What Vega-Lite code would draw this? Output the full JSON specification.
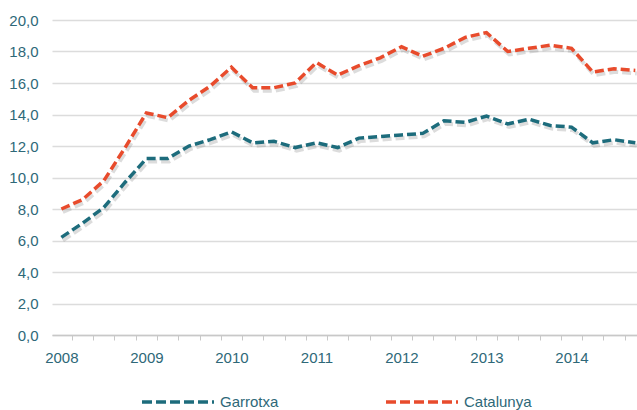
{
  "$schema": "https://vega.github.io/schema/vega-lite/v6.json",
  "width": 585,
  "height": 315,
  "autosize": {"type": "none"},
  "padding": {"left": 52, "top": 20, "right": 0, "bottom": 75},
  "background": "white",
  "config": {
    "view": {"stroke": null},
    "font": "Liberation Sans"
  },
  "data": {
    "values": [
      {"t":2008.0,"s":"Garrotxa","v":6.2},{"t":2008.25,"s":"Garrotxa","v":7.1},{"t":2008.5,"s":"Garrotxa","v":8.1},{"t":2008.75,"s":"Garrotxa","v":9.7},
      {"t":2009.0,"s":"Garrotxa","v":11.2},{"t":2009.25,"s":"Garrotxa","v":11.2},{"t":2009.5,"s":"Garrotxa","v":12.0},{"t":2009.75,"s":"Garrotxa","v":12.4},
      {"t":2010.0,"s":"Garrotxa","v":12.9},{"t":2010.25,"s":"Garrotxa","v":12.2},{"t":2010.5,"s":"Garrotxa","v":12.3},{"t":2010.75,"s":"Garrotxa","v":11.9},
      {"t":2011.0,"s":"Garrotxa","v":12.2},{"t":2011.25,"s":"Garrotxa","v":11.9},{"t":2011.5,"s":"Garrotxa","v":12.5},{"t":2011.75,"s":"Garrotxa","v":12.6},
      {"t":2012.0,"s":"Garrotxa","v":12.7},{"t":2012.25,"s":"Garrotxa","v":12.8},{"t":2012.5,"s":"Garrotxa","v":13.6},{"t":2012.75,"s":"Garrotxa","v":13.5},
      {"t":2013.0,"s":"Garrotxa","v":13.9},{"t":2013.25,"s":"Garrotxa","v":13.4},{"t":2013.5,"s":"Garrotxa","v":13.7},{"t":2013.75,"s":"Garrotxa","v":13.3},
      {"t":2014.0,"s":"Garrotxa","v":13.2},{"t":2014.25,"s":"Garrotxa","v":12.2},{"t":2014.5,"s":"Garrotxa","v":12.4},{"t":2014.75,"s":"Garrotxa","v":12.2},
      {"t":2008.0,"s":"Catalunya","v":8.0},{"t":2008.25,"s":"Catalunya","v":8.6},{"t":2008.5,"s":"Catalunya","v":9.8},{"t":2008.75,"s":"Catalunya","v":11.9},
      {"t":2009.0,"s":"Catalunya","v":14.1},{"t":2009.25,"s":"Catalunya","v":13.8},{"t":2009.5,"s":"Catalunya","v":14.9},{"t":2009.75,"s":"Catalunya","v":15.8},
      {"t":2010.0,"s":"Catalunya","v":17.0},{"t":2010.25,"s":"Catalunya","v":15.7},{"t":2010.5,"s":"Catalunya","v":15.7},{"t":2010.75,"s":"Catalunya","v":16.0},
      {"t":2011.0,"s":"Catalunya","v":17.3},{"t":2011.25,"s":"Catalunya","v":16.5},{"t":2011.5,"s":"Catalunya","v":17.1},{"t":2011.75,"s":"Catalunya","v":17.6},
      {"t":2012.0,"s":"Catalunya","v":18.3},{"t":2012.25,"s":"Catalunya","v":17.7},{"t":2012.5,"s":"Catalunya","v":18.2},{"t":2012.75,"s":"Catalunya","v":18.9},
      {"t":2013.0,"s":"Catalunya","v":19.2},{"t":2013.25,"s":"Catalunya","v":18.0},{"t":2013.5,"s":"Catalunya","v":18.2},{"t":2013.75,"s":"Catalunya","v":18.4},
      {"t":2014.0,"s":"Catalunya","v":18.2},{"t":2014.25,"s":"Catalunya","v":16.7},{"t":2014.5,"s":"Catalunya","v":16.9},{"t":2014.75,"s":"Catalunya","v":16.8}
    ]
  },
  "encoding": {
    "x": {
      "field": "t", "type": "quantitative",
      "scale": {"domain": [2007.89, 2014.77], "nice": false, "zero": false},
      "axis": {
        "title": null,
        "values": [2008, 2008.125, 2008.375, 2008.625, 2008.875, 2009, 2009.125, 2009.375, 2009.625, 2009.875, 2010, 2010.125, 2010.375, 2010.625, 2010.875, 2011, 2011.125, 2011.375, 2011.625, 2011.875, 2012, 2012.125, 2012.375, 2012.625, 2012.875, 2013, 2013.125, 2013.375, 2013.625, 2013.875, 2014, 2014.125, 2014.375, 2014.625],
        "labelExpr": "datum.value % 1 == 0 ? format(datum.value, 'd') : ''",
        "labelFontSize": 15,
        "labelColor": "#2e6878",
        "labelPadding": 10,
        "labelFlush": false,
        "labelOverlap": false,
        "tickSize": 5,
        "tickColor": "#c8c8c8",
        "tickOpacity": {"condition": {"test": "datum.value % 1 == 0", "value": 0}, "value": 1},
        "domainColor": "#c8c8c8",
        "domainWidth": 1.5,
        "grid": false
      }
    },
    "y": {
      "field": "v", "type": "quantitative",
      "scale": {"domain": [0, 20], "nice": false},
      "axis": {
        "title": null,
        "values": [0, 2, 4, 6, 8, 10, 12, 14, 16, 18, 20],
        "labelExpr": "replace(format(datum.value, '.1f'), '.', ',')",
        "labelFontSize": 15,
        "labelColor": "#2e6878",
        "labelPadding": 14,
        "domain": false,
        "ticks": false,
        "grid": true,
        "gridColor": "#dcdcdc",
        "gridWidth": 1.5
      }
    }
  },
  "layer": [
    {
      "mark": {"type": "line", "stroke": "#8a8a8a", "strokeWidth": 4, "opacity": 0.3, "xOffset": 1.5, "yOffset": 3, "strokeDash": [9, 4]},
      "encoding": {"detail": {"field": "s", "type": "nominal"}}
    },
    {
      "mark": {"type": "line", "strokeWidth": 3.5, "strokeDash": [9, 4]},
      "encoding": {
        "color": {
          "field": "s", "type": "nominal",
          "scale": {"domain": ["Garrotxa", "Catalunya"], "range": ["#1d6c7c", "#e84b2c"]},
          "legend": {
            "title": null,
            "orient": "none",
            "direction": "horizontal",
            "legendX": 88,
            "legendY": 344,
            "symbolType": "stroke",
            "symbolSize": 5184,
            "symbolStrokeWidth": 3.5,
            "symbolDash": [10, 4],
            "labelFontSize": 15,
            "labelColor": "#2e6878",
            "labelOffset": 4,
            "columnPadding": 100
          }
        }
      }
    }
  ]
}
